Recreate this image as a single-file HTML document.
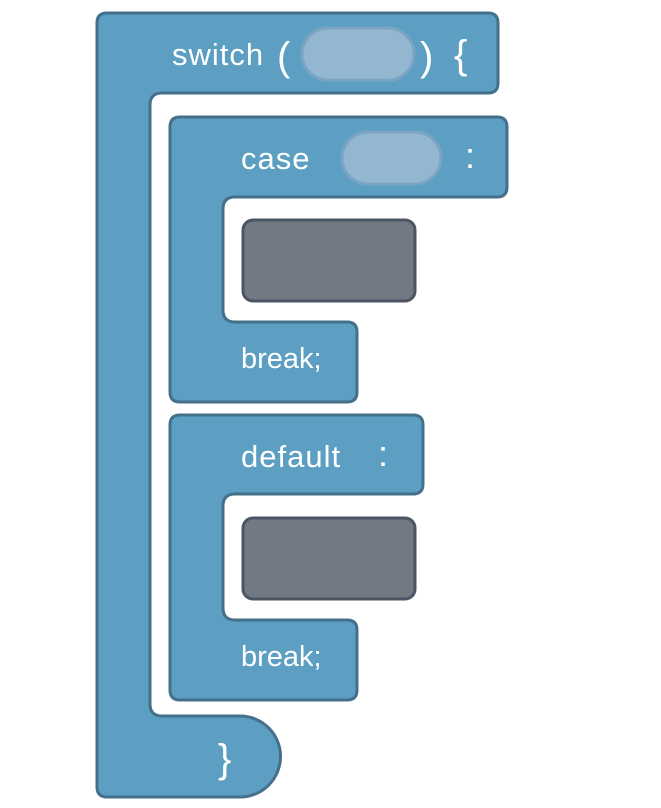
<!DOCTYPE html>
<html><head><meta charset="utf-8"><style>
html,body{margin:0;padding:0;background:#fff;}
svg{display:block;}
text{font-family:"Liberation Sans",sans-serif;fill:#fff;}
</style></head><body>
<svg width="661" height="808" viewBox="0 0 661 808" xmlns="http://www.w3.org/2000/svg">
<g fill="#5c9fc2" stroke="#44708c" stroke-width="3" stroke-linejoin="round">
<path d="M107,13 H488 Q498,13 498,23 V83 Q498,93 488,93 H162 Q150,93 150,105 V704 Q150,716 162,716 H240 A40.5,40.5 0 0 1 240,797 H107 Q97,797 97,787 V23 Q97,13 107,13 Z"/>
<path d="M180,117 H497 Q507,117 507,127 V187 Q507,197 497,197 H235 Q223,197 223,209 V310 Q223,322 235,322 H347 Q357,322 357,332 V392 Q357,402 347,402 H180 Q170,402 170,392 V127 Q170,117 180,117 Z"/>
<path d="M180,415 H413 Q423,415 423,425 V484 Q423,494 413,494 H235 Q223,494 223,506 V608 Q223,620 235,620 H347 Q357,620 357,630 V690 Q357,700 347,700 H180 Q170,700 170,690 V425 Q170,415 180,415 Z"/>
</g>
<g fill="#93b7d1" stroke="#7ba4c3" stroke-width="3">
<rect x="302" y="28" width="112" height="52" rx="26"/>
<rect x="342" y="132" width="99" height="52" rx="26"/>
</g>
<g fill="#727983" stroke="#4c5563" stroke-width="3">
<rect x="243" y="220" width="172" height="81" rx="10"/>
<rect x="243" y="518" width="172" height="81" rx="10"/>
</g>
<text x="172" y="65" font-size="31" letter-spacing="1">switch</text>
<text x="277" y="70" font-size="40">(</text>
<text x="420" y="70" font-size="40">)</text>
<text x="454" y="68" font-size="40">{</text>
<text x="241" y="169" font-size="31" letter-spacing="1">case</text>
<text x="465" y="168" font-size="36">:</text>
<text x="241" y="467" font-size="31" letter-spacing="1">default</text>
<text x="378" y="466" font-size="36">:</text>
<text x="241" y="368" font-size="29">break;</text>
<text x="241" y="666" font-size="29">break;</text>
<text x="218" y="772" font-size="40">}</text>
</svg>
</body></html>
